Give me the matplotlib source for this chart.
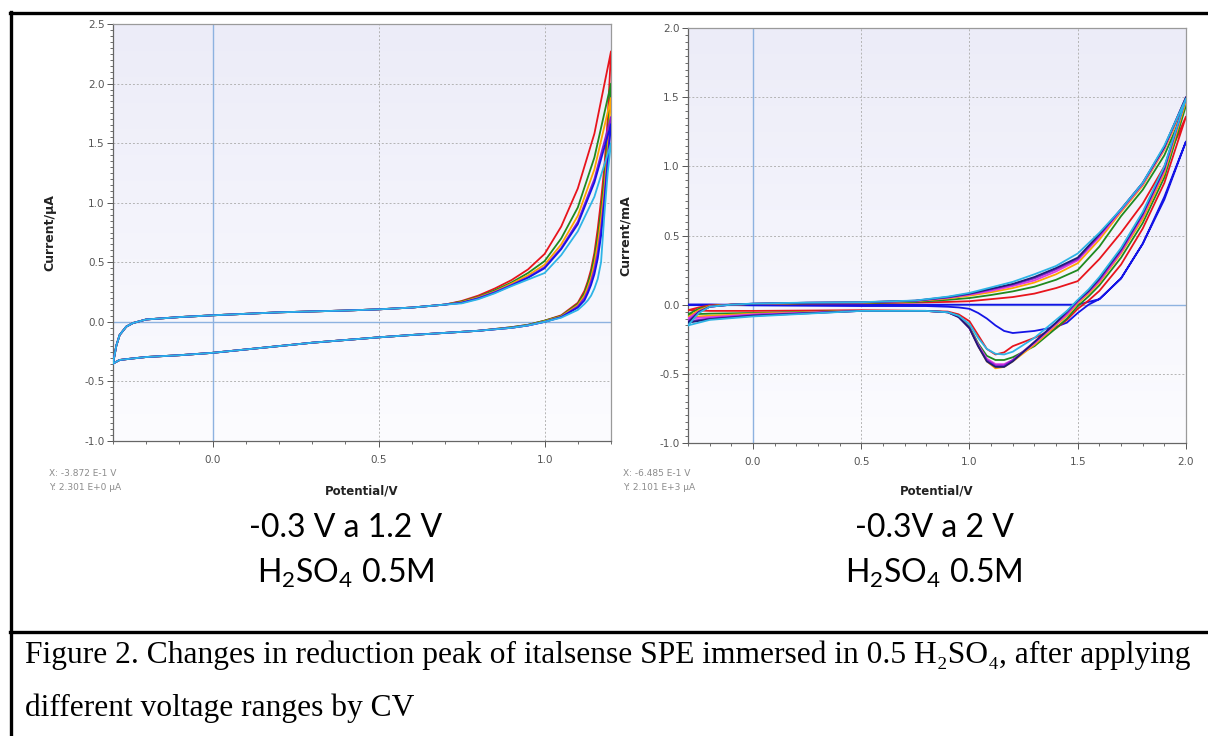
import matplotlib
matplotlib.use("Agg")
import matplotlib.pyplot as plt
import matplotlib.ticker as ticker
from matplotlib.lines import Line2D
import numpy as np

# ---- data: left panel (-0.3 V to 1.2 V), current in uA
L_FWD_V_LOW = [-0.30, -0.29, -0.28, -0.26, -0.24, -0.20, -0.10, 0.00, 0.20, 0.40, 0.50, 0.60, 0.70]
L_FWD_I_LOW = [-0.35, -0.20, -0.11, -0.04, -0.01, 0.02, 0.04, 0.055, 0.08, 0.095, 0.105, 0.12, 0.145]
L_FWD_V_HIGH = [0.75, 0.80, 0.85, 0.90, 0.95, 1.00, 1.05, 1.10, 1.15, 1.20]
L_REV_V_HIGH = [1.20, 1.19, 1.18, 1.17, 1.16, 1.15, 1.14, 1.13, 1.12, 1.10, 1.05, 1.00, 0.95, 0.90]
L_REV_V_LOW = [0.80, 0.60, 0.50, 0.30, 0.00, -0.10, -0.20, -0.25, -0.28, -0.30]
L_REV_I_LOW = [-0.075, -0.11, -0.13, -0.175, -0.26, -0.28, -0.295, -0.31, -0.32, -0.35]

L_RED_FWD = [0.175, 0.22, 0.28, 0.35, 0.44, 0.57, 0.80, 1.12, 1.58, 2.27]
L_RED_REV = [2.27, 1.70, 1.30, 1.02, 0.78, 0.58, 0.44, 0.34, 0.26, 0.16, 0.055, 0.01, -0.025, -0.045]
L_GREEN_FWD = [0.17, 0.21, 0.265, 0.33, 0.41, 0.51, 0.70, 0.96, 1.38, 2.00]
L_GREEN_REV = [2.00, 1.55, 1.20, 0.93, 0.71, 0.54, 0.41, 0.32, 0.24, 0.15, 0.05, 0.01, -0.025, -0.045]
L_ORANGE_FWD = [0.165, 0.205, 0.255, 0.32, 0.39, 0.48, 0.65, 0.89, 1.28, 1.88]
L_ORANGE_REV = [1.88, 1.45, 1.12, 0.86, 0.65, 0.49, 0.37, 0.29, 0.22, 0.14, 0.045, 0.005, -0.03, -0.05]
L_VIOLET_FWD = [0.16, 0.20, 0.25, 0.31, 0.375, 0.46, 0.62, 0.84, 1.20, 1.72]
L_VIOLET_REV = [1.72, 1.38, 1.05, 0.78, 0.58, 0.44, 0.34, 0.26, 0.20, 0.13, 0.04, 0.0, -0.03, -0.05]
L_BLUE_FWD = [0.16, 0.195, 0.245, 0.305, 0.37, 0.45, 0.61, 0.82, 1.17, 1.66]
L_BLUE_REV = [1.66, 1.33, 1.00, 0.72, 0.53, 0.40, 0.31, 0.24, 0.18, 0.12, 0.04, 0.0, -0.03, -0.05]
L_CYAN_FWD = [0.155, 0.19, 0.24, 0.30, 0.355, 0.41, 0.56, 0.76, 1.05, 1.50]
L_CYAN_REV = [1.50, 1.25, 0.90, 0.50, 0.36, 0.28, 0.22, 0.18, 0.15, 0.10, 0.035, 0.0, -0.03, -0.05]

# ---- data: right panel (-0.3 V to 2 V), current in mA
R_FWD_V = [-0.30, -0.25, -0.20, -0.10, 0.00, 0.25, 0.50, 0.75, 0.90, 1.00, 1.10, 1.20, 1.30, 1.40, 1.50, 1.60, 1.70, 1.80, 1.90, 2.00]
R_REV_V = [2.00, 1.90, 1.80, 1.70, 1.60, 1.55, 1.50, 1.45, 1.40, 1.30, 1.20, 1.16, 1.12, 1.08, 1.04, 1.00, 0.95, 0.90, 0.80, 0.50, 0.00, -0.20, -0.30]

R_BLUE_FWD = [0.0, 0.0, 0.0, 0.0, 0.0, 0.0, 0.0, 0.0, 0.0, 0.0, 0.0, 0.0, 0.0, 0.0, 0.0, 0.04, 0.19, 0.44, 0.78, 1.18]
R_BLUE_REV = [1.18, 0.76, 0.44, 0.19, 0.04, 0.0, -0.06, -0.13, -0.16, -0.19, -0.205, -0.19, -0.15, -0.10, -0.06, -0.03, -0.02, -0.015, -0.01, -0.01, -0.005, 0.0, 0.0]
R_RED_FWD = [-0.04, -0.02, -0.005, 0.0, 0.005, 0.008, 0.01, 0.015, 0.02, 0.025, 0.04, 0.055, 0.08, 0.12, 0.17, 0.33, 0.52, 0.73, 1.00, 1.36]
R_RED_REV = [1.36, 0.88, 0.55, 0.29, 0.10, 0.03, -0.03, -0.11, -0.17, -0.24, -0.30, -0.345, -0.36, -0.32, -0.22, -0.12, -0.07, -0.05, -0.045, -0.04, -0.045, -0.045, -0.04]
R_GREEN_FWD = [-0.07, -0.03, -0.01, 0.0, 0.005, 0.01, 0.012, 0.02, 0.035, 0.048, 0.07, 0.096, 0.13, 0.18, 0.25, 0.42, 0.64, 0.83, 1.08, 1.44]
R_GREEN_REV = [1.44, 0.92, 0.59, 0.34, 0.14, 0.06, -0.01, -0.10, -0.17, -0.30, -0.38, -0.40, -0.40, -0.37, -0.28, -0.16, -0.08, -0.055, -0.045, -0.045, -0.06, -0.065, -0.07]
R_ORANGE_FWD = [-0.09, -0.04, -0.01, 0.0, 0.006, 0.012, 0.015, 0.025, 0.045, 0.065, 0.09, 0.12, 0.16, 0.22, 0.30, 0.47, 0.67, 0.86, 1.12, 1.47]
R_ORANGE_REV = [1.47, 0.95, 0.62, 0.37, 0.16, 0.08, 0.01, -0.08, -0.15, -0.29, -0.41, -0.45, -0.46, -0.41, -0.30, -0.17, -0.085, -0.055, -0.045, -0.045, -0.065, -0.08, -0.09]
R_MAGENTA_FWD = [-0.10, -0.05, -0.015, 0.0, 0.006, 0.013, 0.016, 0.027, 0.05, 0.072, 0.10, 0.135, 0.175, 0.24, 0.32, 0.49, 0.68, 0.87, 1.13, 1.49]
R_MAGENTA_REV = [1.49, 0.97, 0.64, 0.38, 0.17, 0.09, 0.02, -0.07, -0.14, -0.28, -0.40, -0.43, -0.43, -0.39, -0.29, -0.17, -0.085, -0.055, -0.045, -0.045, -0.07, -0.09, -0.10]
R_VIOLET_FWD = [-0.12, -0.05, -0.015, 0.0, 0.007, 0.014, 0.017, 0.028, 0.052, 0.077, 0.11, 0.145, 0.19, 0.255, 0.33, 0.50, 0.69, 0.88, 1.14, 1.50]
R_VIOLET_REV = [1.50, 0.98, 0.65, 0.39, 0.18, 0.095, 0.025, -0.06, -0.13, -0.27, -0.40, -0.44, -0.44, -0.40, -0.30, -0.17, -0.09, -0.055, -0.045, -0.045, -0.075, -0.10, -0.12]
R_NAVY_FWD = [-0.13, -0.055, -0.015, 0.0, 0.007, 0.014, 0.017, 0.029, 0.055, 0.08, 0.115, 0.15, 0.20, 0.265, 0.34, 0.51, 0.69, 0.88, 1.14, 1.50]
R_NAVY_REV = [1.50, 0.99, 0.66, 0.40, 0.19, 0.10, 0.03, -0.05, -0.13, -0.27, -0.41, -0.45, -0.45, -0.41, -0.30, -0.17, -0.09, -0.055, -0.045, -0.045, -0.08, -0.105, -0.13]
R_CYAN_FWD = [-0.15, -0.06, -0.015, 0.0, 0.008, 0.015, 0.018, 0.03, 0.058, 0.085, 0.125, 0.165, 0.22, 0.28, 0.37, 0.52, 0.69, 0.88, 1.15, 1.49]
R_CYAN_REV = [1.49, 1.00, 0.67, 0.41, 0.20, 0.11, 0.035, -0.045, -0.11, -0.24, -0.34, -0.36, -0.355, -0.32, -0.24, -0.14, -0.08, -0.055, -0.045, -0.045, -0.085, -0.11, -0.15]

# ---- labels
PANEL_TITLES = [["-0.3 V a 1.2 V", r"H$_\mathregular{2}$SO$_\mathregular{4}$ 0.5M"],
                ["-0.3V a 2 V", r"H$_\mathregular{2}$SO$_\mathregular{4}$ 0.5M"]]
CURSOR_TEXT = [["X: -3.872 E-1 V", "Y: 2.301 E+0 \u00b5A"],
               ["X: -6.485 E-1 V", "Y: 2.101 E+3 \u00b5A"]]
Y_LABELS = ["Current/\u00b5A", "Current/mA"]
CAPTION = ["Figure 2. Changes in reduction peak of italsense SPE immersed in 0.5 H\u2082SO\u2084, after applying",
           "different voltage ranges by CV"]

RED = "#E8141C"
GREEN = "#1F8A1F"
ORANGE = "#FFA500"
VIOLET = "#8A1ED2"
MAGENTA = "#E03CE0"
BLUE = "#1414E6"
NAVY = "#1E1E78"
CYAN = "#2EB4E6"

W, H = 1208, 736
fig = plt.figure(figsize=(W / 100, H / 100), dpi=100)
fig.patch.set_facecolor("white")


def px_rect(x0, y0, x1, y1):
    return [x0 / W, 1 - y1 / H, (x1 - x0) / W, (y1 - y0) / H]


def style_axes(ax, xlim, ylim, ylabel):
    # soft lavender gradient like the instrument software
    grad = np.linspace(0, 1, 256).reshape(-1, 1)
    cmap = matplotlib.colors.LinearSegmentedColormap.from_list("bg", ["#FCFCFF", "#ECECF8"])
    ax.imshow(grad, extent=[0, 1, 0, 1], transform=ax.transAxes, origin="lower",
              aspect="auto", cmap=cmap, zorder=0)
    ax.set_xlim(*xlim)
    ax.set_ylim(*ylim)
    ax.xaxis.set_major_locator(ticker.MultipleLocator(0.5))
    ax.xaxis.set_minor_locator(ticker.MultipleLocator(0.1))
    ax.yaxis.set_major_locator(ticker.MultipleLocator(0.5))
    ax.yaxis.set_minor_locator(ticker.MultipleLocator(0.05))
    ax.xaxis.set_major_formatter(ticker.FormatStrFormatter("%.1f"))
    ax.yaxis.set_major_formatter(ticker.FormatStrFormatter("%.1f"))
    ax.tick_params(which="major", length=4, width=0.7, color="#555555",
                   labelsize=7.5, labelcolor="#555555", pad=2)
    ax.tick_params(which="minor", length=2, width=0.6, color="#555555")
    ax.tick_params(axis="x", pad=6)
    ax.grid(True, which="major", color="#B4B4B4", lw=0.7, ls=(0, (2, 2)), zorder=1)
    for s in ["top", "right"]:
        ax.spines[s].set_color("#9A9A9A")
    for s in ["left", "bottom"]:
        ax.spines[s].set_color("#666666")
    for s in ax.spines.values():
        s.set_linewidth(0.9)
    ax.axhline(0, color="#8DB2E0", lw=1.0, zorder=2)
    ax.axvline(0, color="#8DB2E0", lw=1.0, zorder=2)
    ax.set_ylabel(ylabel, fontsize=9, fontweight="bold", color="#222222", labelpad=20)


# ---- left panel
ax1 = fig.add_axes(px_rect(113, 24, 611, 441))
style_axes(ax1, (-0.3, 1.2), (-1.0, 2.5), Y_LABELS[0])
left_cycles = [
    (L_RED_FWD, L_RED_REV, RED),
    (L_GREEN_FWD, L_GREEN_REV, GREEN),
    (L_ORANGE_FWD, L_ORANGE_REV, ORANGE),
    (L_VIOLET_FWD, L_VIOLET_REV, VIOLET),
    (L_BLUE_FWD, L_BLUE_REV, BLUE),
    (L_CYAN_FWD, L_CYAN_REV, CYAN),
]
for fwd, rev, c in left_cycles:
    v = L_FWD_V_LOW + L_FWD_V_HIGH + L_REV_V_HIGH + L_REV_V_LOW
    i = L_FWD_I_LOW + fwd + rev + L_REV_I_LOW
    ax1.plot(v, i, color=c, lw=1.3, zorder=3, solid_joinstyle="round")

# ---- right panel
ax2 = fig.add_axes(px_rect(688, 28, 1186, 443))
style_axes(ax2, (-0.3, 2.0), (-1.0, 2.0), Y_LABELS[1])
right_cycles = [
    (R_BLUE_FWD, R_BLUE_REV, BLUE),
    (R_RED_FWD, R_RED_REV, RED),
    (R_GREEN_FWD, R_GREEN_REV, GREEN),
    (R_ORANGE_FWD, R_ORANGE_REV, ORANGE),
    (R_MAGENTA_FWD, R_MAGENTA_REV, MAGENTA),
    (R_VIOLET_FWD, R_VIOLET_REV, VIOLET),
    (R_NAVY_FWD, R_NAVY_REV, NAVY),
    (R_CYAN_FWD, R_CYAN_REV, CYAN),
]
for fwd, rev, c in right_cycles:
    ax2.plot(R_FWD_V + R_REV_V, fwd + rev, color=c, lw=1.3, zorder=3, solid_joinstyle="round")

# ---- texts under each panel
for k, (cx, xc, tc) in enumerate([(362, 49, 346), (937, 623, 934)]):
    fig.text(cx / W, 1 - 491 / H, "Potential/V", ha="center", va="center",
             fontsize=8.5, fontweight="bold", color="#222222")
    fig.text(xc / W, 1 - 473 / H, CURSOR_TEXT[k][0], ha="left", va="center",
             fontsize=6.5, color="#8C8C8C")
    fig.text(xc / W, 1 - 488 / H, CURSOR_TEXT[k][1], ha="left", va="center",
             fontsize=6.5, color="#8C8C8C")
    fig.text(tc / W, 1 - 528 / H, PANEL_TITLES[k][0], ha="center", va="center",
             fontsize=23, family="Lato", color="black")
    fig.text(tc / W, 1 - 573 / H, PANEL_TITLES[k][1], ha="center", va="center",
             fontsize=23, family="Lato", color="black")

# ---- caption
fig.text(25 / W, 1 - 655 / H, CAPTION[0], ha="left", va="center",
         fontsize=22.7, family="Liberation Serif", color="black")
fig.text(25 / W, 1 - 708 / H, CAPTION[1], ha="left", va="center",
         fontsize=22.7, family="Liberation Serif", color="black")

# ---- table borders
def hline(y, x0=10, x1=1208, lw=2.4):
    fig.add_artist(Line2D([x0 / W, x1 / W], [1 - y / H, 1 - y / H],
                          transform=fig.transFigure, color="black", lw=lw))


def vline(x, y0=12, y1=736, lw=2.4):
    fig.add_artist(Line2D([x / W, x / W], [1 - y0 / H, 1 - y1 / H],
                          transform=fig.transFigure, color="black", lw=lw))


hline(13)
hline(632)
vline(11)

fig.savefig("out.png", dpi=100, facecolor="white")
